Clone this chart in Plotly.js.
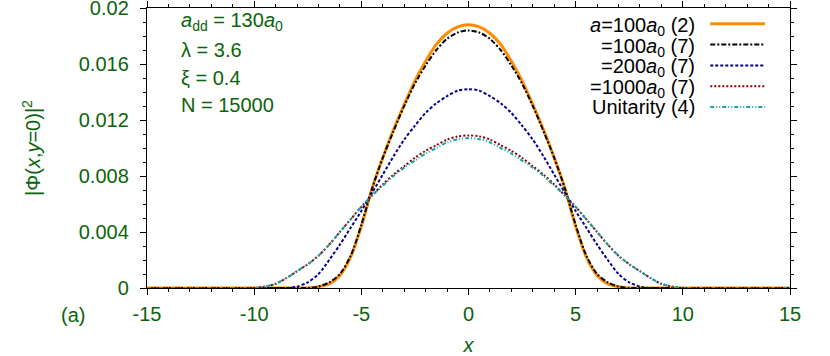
<!DOCTYPE html>
<html>
<head>
<meta charset="utf-8">
<script src="https://cdn.plot.ly/plotly-3.0.1.min.js"></script>
<style>
  html, body { margin: 0; padding: 0; background: #fff; }
  #graphDiv { width: 830px; height: 356px; }
</style>
</head>
<body>
<div id="graphDiv"></div>
<script>
// x grid (read every 0.5)
const xs = [-15, -14.5, -14, -13.5, -13, -12.5, -12, -11.5, -11, -10.5, -10, -9.5, -9, -8.5, -8, -7.5, -7, -6.5, -6, -5.5, -5, -4.5, -4, -3.5, -3, -2.5, -2, -1.5, -1, -0.5,
    0, 0.5, 1, 1.5, 2, 2.5, 3, 3.5, 4, 4.5, 5, 5.5, 6, 6.5, 7, 7.5, 8, 8.5, 9, 9.5, 10, 10.5, 11, 11.5, 12, 12.5, 13, 13.5, 14, 14.5, 15];

// a=100a0 (2)
const orange = [0, 0, 0, 0, 0, 0, 0, 0, 0, 0, 0, 0, 0, 0, 0, 0, 0.0001, 0.0003, 0.0009, 0.0022, 0.0044, 0.0071, 0.0093, 0.0113, 0.0131, 0.0148, 0.0162, 0.0174, 0.0182, 0.01865,
    0.0188, 0.01865, 0.0182, 0.0174, 0.0162, 0.0148, 0.0131, 0.0113, 0.0093, 0.0071, 0.0044, 0.0022, 0.0009, 0.0003, 0.0001, 0, 0, 0, 0, 0, 0, 0, 0, 0, 0, 0, 0, 0, 0, 0, 0];
// =100a0 (7)
const black = [0, 0, 0, 0, 0, 0, 0, 0, 0, 0, 0, 0, 0, 0, 0, 0, 0.0001, 0.0004, 0.0010, 0.0023, 0.0045, 0.0071, 0.0093, 0.0112, 0.0130, 0.0146, 0.0159, 0.0170, 0.0178, 0.01825,
    0.0184, 0.01825, 0.0178, 0.0170, 0.0159, 0.0146, 0.0130, 0.0112, 0.0093, 0.0071, 0.0045, 0.0023, 0.0010, 0.0004, 0.0001, 0, 0, 0, 0, 0, 0, 0, 0, 0, 0, 0, 0, 0, 0, 0, 0];
// =200a0 (7)
const blue = [0, 0, 0, 0, 0, 0, 0, 0, 0, 0, 0, 0, 0, 0, 0.0001, 0.0004, 0.0010, 0.0020, 0.0031, 0.0043, 0.0055, 0.0068, 0.0081, 0.0094, 0.0106, 0.0116, 0.0125, 0.0132, 0.0137, 0.0141,
    0.0142, 0.0141, 0.0137, 0.0132, 0.0125, 0.0116, 0.0106, 0.0094, 0.0081, 0.0068, 0.0055, 0.0043, 0.0031, 0.0020, 0.0010, 0.0004, 0.0001, 0, 0, 0, 0, 0, 0, 0, 0, 0, 0, 0, 0, 0, 0];
// =1000a0 (7)
const red = [0, 0, 0, 0, 0, 0, 0, 0, 0, 0, 0, 0.0001, 0.0003, 0.0007, 0.0012, 0.0017, 0.0023, 0.0031, 0.0040, 0.0049, 0.0058, 0.0066, 0.0074, 0.0081, 0.0087, 0.0093, 0.0098, 0.0102, 0.0106, 0.01083,
    0.0109, 0.01083, 0.0106, 0.0102, 0.0098, 0.0093, 0.0087, 0.0081, 0.0074, 0.0066, 0.0058, 0.0049, 0.0040, 0.0031, 0.0023, 0.0017, 0.0012, 0.0007, 0.0003, 0.0001, 0, 0, 0, 0, 0, 0, 0, 0, 0, 0, 0];
// Unitarity (4)
const teal = [0, 0, 0, 0, 0, 0, 0, 0, 0, 0, 0, 0.0001, 0.0003, 0.0007, 0.0012, 0.0017, 0.0023, 0.0031, 0.0040, 0.0049, 0.0058, 0.0066, 0.0073, 0.0080, 0.0086, 0.0091, 0.0096, 0.0100, 0.0104, 0.01063,
    0.0107, 0.01063, 0.0104, 0.0100, 0.0096, 0.0091, 0.0086, 0.0080, 0.0073, 0.0066, 0.0058, 0.0049, 0.0040, 0.0031, 0.0023, 0.0017, 0.0012, 0.0007, 0.0003, 0.0001, 0, 0, 0, 0, 0, 0, 0, 0, 0, 0, 0];

const names = [
    "<i>a</i>=100<i>a</i><sub>0</sub> (2)",
    "=100<i>a</i><sub>0</sub> (7)",
    "=200<i>a</i><sub>0</sub> (7)",
    "=1000<i>a</i><sub>0</sub> (7)",
    "Unitarity (4)"
];
const params = [
    "<i>a</i><sub>dd</sub> = 130<i>a</i><sub>0</sub>",
    "λ = 3.6",
    "ξ = 0.4",
    "N = 15000"
];
const xTicks = [-15, -10, -5, 0, 5, 10, 15];
const xTickText = ["-15", "-10", "-5", "0", "5", "10", "15"];
const yTicks = [0, 0.004, 0.008, 0.012, 0.016, 0.02];

const series = [orange, black, blue, red, teal];
const colors = ["#ff8c00", "#000000", "#00008b", "#8b0000", "#1aa3a3"];
const dashes = ["solid", "5px,2px,2px,2px", "3px,2px", "2px,2px", "4px,2px,1px,2px,1px,2px"];
const widths = [3, 2, 2, 2, 2];

const green = "#0a640a";
const font = "Liberation Sans, Arial, sans-serif";
const fs = 20;

const traces = series.map((ys, i) => ({
    x: xs, y: ys, mode: "lines", name: names[i], showlegend: false,
    line: { color: colors[i], dash: dashes[i], width: widths[i], shape: "spline", smoothing: 0.8 }
}));

// hand-made legend: right-aligned text, sample line on the right
const annotations = [];
const shapes = [];
const legTop = 0.944, legStep = 0.0745;
names.forEach((n, i) => {
    const y = legTop - i * legStep;
    const off = n.includes("<sub>") ? 0.009 : 0;
    annotations.push({ xref: "paper", yref: "paper", x: 0.856, y: y - off, xanchor: "right", yanchor: "middle",
        text: n, showarrow: false, font: { family: font, size: fs, color: "#000" } });
    shapes.push({ type: "line", xref: "paper", yref: "paper", x0: 0.876, x1: 0.961, y0: y, y1: y,
        line: { color: colors[i], dash: dashes[i], width: widths[i] } });
});
const parY = [0.952, 0.8485, 0.7487, 0.6524];
params.forEach((p, i) => {
    annotations.push({ xref: "paper", yref: "paper", x: 0.05, y: parY[i], xanchor: "left", yanchor: "middle",
        text: p, showarrow: false, font: { family: font, size: fs, color: green } });
});
annotations.push({ xref: "paper", yref: "paper", x: -0.115, y: -0.096, xanchor: "center", yanchor: "middle",
    text: "(a)", showarrow: false, font: { family: font, size: fs, color: green } });

const axisCommon = {
    showgrid: false, zeroline: false, showline: true, linecolor: "#000", linewidth: 1.2,
    mirror: "allticks", ticks: "outside", ticklen: 6, tickwidth: 1, tickcolor: "#000",
    tickfont: { family: font, size: fs, color: green }, ticklabeloverflow: "allow"
};

const layout = {
    width: 830, height: 356,
    margin: { l: 147, r: 40, t: 8, b: 68 },
    paper_bgcolor: "#fff", plot_bgcolor: "#fff",
    xaxis: Object.assign({}, axisCommon, {
        range: [-15, 15], tickvals: xTicks, ticktext: xTickText, ticklabelstandoff: 2,
        minor: { dtick: 1, ticks: "outside", ticklen: 3, tickcolor: "#000", tickwidth: 1 },
        title: { text: "<i>x</i>", font: { family: font, size: fs, color: green }, standoff: 14 }
    }),
    yaxis: Object.assign({}, axisCommon, {
        range: [0, 0.02], tickvals: yTicks, ticklabelstandoff: 7,
        minor: { dtick: 0.001, ticks: "outside", ticklen: 3, tickcolor: "#000", tickwidth: 1 },
        title: { text: "|Φ(<i>x</i>,<i>y</i>=0)|<sup>2</sup>", font: { family: font, size: fs, color: green }, standoff: 32 }
    }),
    annotations: annotations,
    shapes: shapes,
    showlegend: false
};

Plotly.newPlot("graphDiv", traces, layout, { staticPlot: true });
</script>
</body>
</html>
